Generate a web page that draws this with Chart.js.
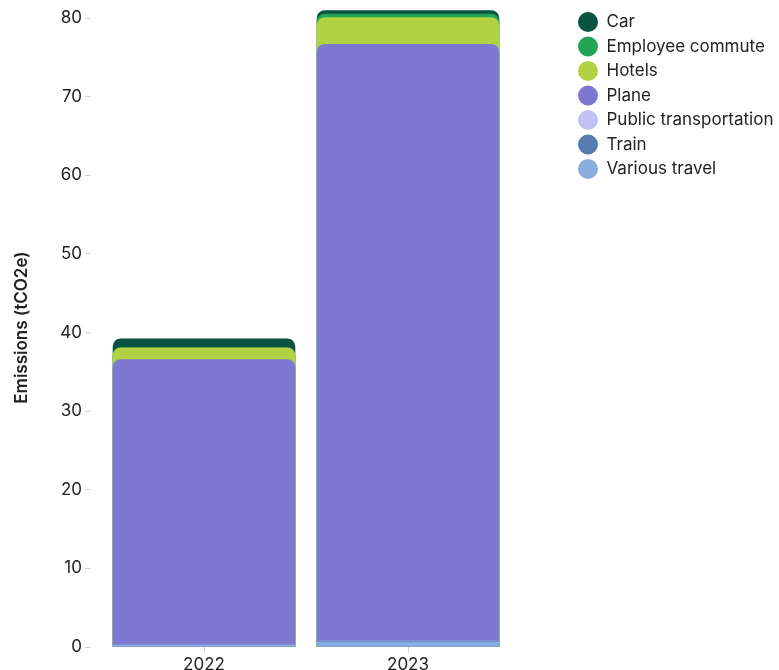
<!DOCTYPE html>
<html>
<head>
<meta charset="utf-8">
<script src="https://cdn.jsdelivr.net/npm/chart.js@4.4.1/dist/chart.umd.min.js"></script>
<style>
  html, body { margin: 0; padding: 0; background: #fff; }
  #wrap { width: 779px; height: 670px; }
</style>
</head>
<body>
<div id="wrap"><canvas id="chart"></canvas></div>
<script>
const years = ['2022', '2023'];

// tCO2e per category and year
const car = [1.15, 0.45];
const employeeCommute = [0, 0.45];
const hotels = [1.5, 3.4];
const plane = [36.3, 75.9];
const publicTransportation = [0, 0.05];
const train = [0, 0.05];
const variousTravel = [0.3, 0.7];

const yTicks = [0, 10, 20, 30, 40, 50, 60, 70, 80];

const seriesNames = ['Car', 'Employee commute', 'Hotels', 'Plane', 'Public transportation', 'Train', 'Various travel'];
const seriesValues = [car, employeeCommute, hotels, plane, publicTransportation, train, variousTravel];
const seriesColors = ['#0b5341', '#23a455', '#b1d343', '#7e78d3', '#c4c1f5', '#557bb0', '#8aaee0'];

// Car sits on top of the stack, Various travel at the bottom.
// Each bar runs from 0 to the top of its own layer so the layer
// underneath shows behind the rounded corners of the one in front.
function layerTop(k) {
  return years.map((_, i) => seriesValues.slice(k).reduce((sum, arr) => sum + arr[i], 0));
}

Chart.defaults.font.family = 'Inter';
Chart.defaults.font.size = 17;
Chart.defaults.color = '#222';

new Chart(document.getElementById('chart'), {
  type: 'bar',
  data: {
    labels: years,
    datasets: seriesNames.map((name, k) => ({
      label: name,
      data: layerTop(k),
      backgroundColor: seriesColors[k],
      borderWidth: 0,
      borderRadius: { topLeft: 8, topRight: 8 },
      borderSkipped: 'start',
      grouped: false,
      order: seriesNames.length - 1 - k,
      barPercentage: 0.895,
      categoryPercentage: 1
    }))
  },
  options: {
    responsive: true,
    maintainAspectRatio: false,
    animation: false,
    layout: { padding: { top: 6, right: 3, bottom: 0, left: 0 } },
    plugins: {
      tooltip: { enabled: false },
      legend: {
        position: 'right',
        align: 'start',
        maxWidth: 205.5,
        labels: {
          usePointStyle: true,
          pointStyle: 'circle',
          boxHeight: 14,
          pointStyleWidth: 20,
          padding: 7.5,
          color: '#222',
          font: { size: 17 },
          sort: (a, b) => a.datasetIndex - b.datasetIndex
        }
      }
    },
    scales: {
      x: {
        grid: { display: true, drawOnChartArea: false, offset: false, tickLength: 6, tickColor: '#d4d4d4' },
        border: { display: false },
        ticks: { padding: 2, font: { size: 17 }, color: '#222' },
        afterFit(scale) { scale.height = 23; }
      },
      y: {
        min: 0,
        max: 81.27,
        border: { display: false },
        grid: {
          drawOnChartArea: false,
          tickLength: 17,
          tickColor: '#d4d4d4',
          tickBorderDash: [6, 11]
        },
        ticks: { stepSize: 10, includeBounds: false, padding: 3, font: { size: 17, lineHeight: 0.6 }, color: '#222' },
        afterBuildTicks(scale) { scale.ticks = yTicks.map(v => ({ value: v })); },
        title: {
          display: true,
          text: 'Emissions (tCO2e)',
          font: { size: 17, weight: '600' },
          color: '#222',
          padding: { top: 12, bottom: 0 }
        },
        afterFit(scale) { scale.width = 102; }
      },
      // empty axis that keeps space between the bars and the legend
      gap: {
        type: 'linear',
        position: 'right',
        display: true,
        grid: { display: false },
        border: { display: false },
        ticks: { display: false },
        afterFit(scale) { scale.width = 60.5; }
      }
    }
  }
});
</script>
</body>
</html>
